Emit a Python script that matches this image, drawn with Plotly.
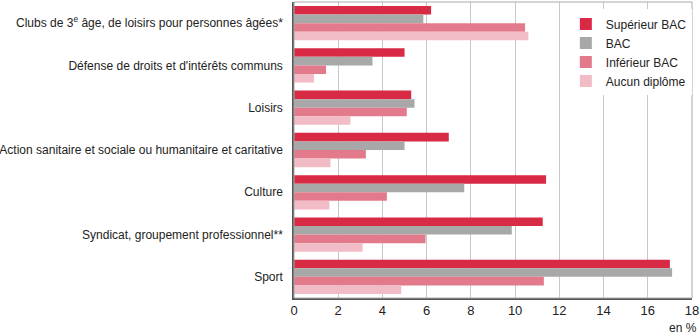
import plotly.graph_objects as go

categories = [
    "Clubs de 3<sup>e</sup> âge, de loisirs pour personnes âgées*",
    "Défense de droits et d'intérêts communs",
    "Loisirs",
    "Action sanitaire et sociale ou humanitaire et caritative",
    "Culture",
    "Syndicat, groupement professionnel**",
    "Sport",
]

superieur_bac = [6.2, 5.0, 5.3, 7.0, 11.4, 11.25, 17.0]
bac = [5.85, 3.55, 5.45, 5.0, 7.7, 9.85, 17.1]
inferieur_bac = [10.45, 1.45, 5.1, 3.25, 4.2, 5.95, 11.3]
aucun_diplome = [10.6, 0.9, 2.55, 1.65, 1.6, 3.1, 4.85]

series = [
    ("Supérieur BAC", superieur_bac, "#d82a44"),
    ("BAC", bac, "#a8a8a8"),
    ("Inférieur BAC", inferieur_bac, "#e27a8b"),
    ("Aucun diplôme", aucun_diplome, "#f1bcc6"),
]

x_ticks = [0, 2, 4, 6, 8, 10, 12, 14, 16, 18]

FONT = "Liberation Sans, Arial, sans-serif"

fig = go.Figure()
for name, values, color in series:
    fig.add_trace(go.Bar(
        y=categories, x=values, name=name, orientation="h",
        marker=dict(color=color, line=dict(width=0)),
    ))

fig.update_layout(
    width=700, height=334,
    margin=dict(l=294, r=8, t=2, b=36, autoexpand=False),
    barmode="group", bargap=0.19, bargroupgap=0,
    plot_bgcolor="white", paper_bgcolor="white",
    font=dict(family=FONT, size=12, color="#222"),
    showlegend=True,
    legend=dict(
        x=0.683, y=0.975, xanchor="left", yanchor="top",
        bgcolor="white", font=dict(size=12, color="#222"),
        itemwidth=30, tracegroupgap=0,
    ),
    xaxis=dict(
        range=[0, 18], tickvals=x_ticks, ticktext=[str(t) for t in x_ticks],
        showgrid=True, gridcolor="#c8c8c8", gridwidth=1,
        showline=True, linecolor="#555", linewidth=1.5, mirror=False,
        ticks="", zeroline=False, tickfont=dict(size=13),
        automargin=False,
    ),
    yaxis=dict(
        autorange="reversed", showgrid=False,
        showline=True, linecolor="#555", linewidth=1.5,
        ticks="", ticklabelstandoff=7, tickfont=dict(size=12),
        automargin=False,
    ),
    shapes=[dict(
        type="rect", xref="paper", yref="paper", x0=0, x1=1, y0=0, y1=1,
        line=dict(color="#aaaaaa", width=1), layer="above",
    )],
    annotations=[dict(
        text="en %", xref="paper", yref="paper", x=1.017, y=-0.102,
        xanchor="right", yanchor="middle", showarrow=False,
        font=dict(size=12, color="#222"),
    )],
)

fig.write_html("out.html")
